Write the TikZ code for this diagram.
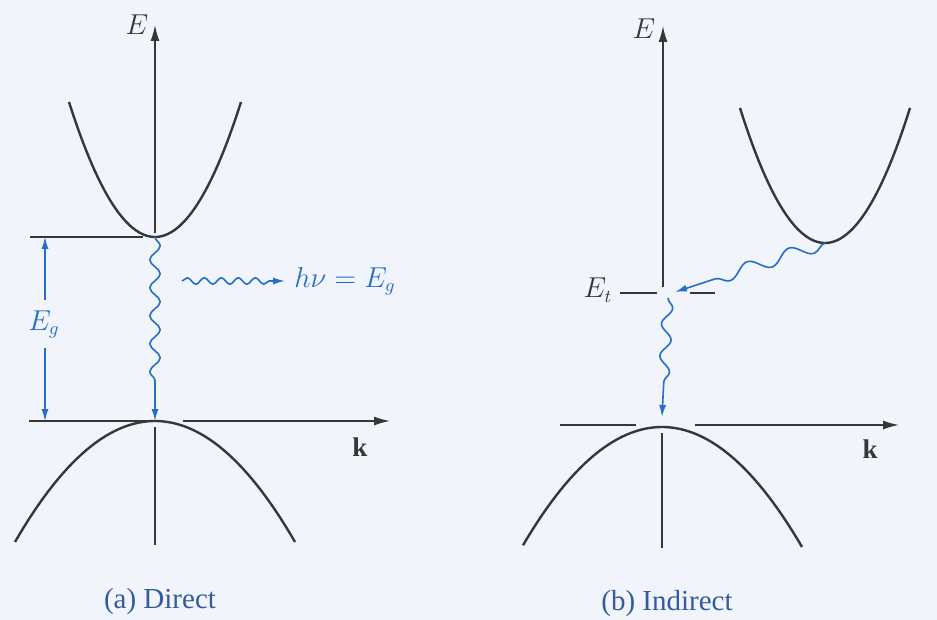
\documentclass[tikz,border=0pt]{standalone}
\usepackage{fontspec}
\setmainfont{Liberation Serif}
\usetikzlibrary{arrows.meta, decorations.pathmorphing}

\definecolor{paper}{RGB}{241,244,250}
\definecolor{bandgray}{RGB}{55,55,55}
\definecolor{waveblue}{RGB}{38,110,200}
\definecolor{capblue}{RGB}{50,92,158}

\begin{document}
\begin{tikzpicture}[>={Latex[length=8pt, width=4.5pt]}, x=0.5pt, y=-0.5pt,
    axis/.style={bandgray, line width=0.75pt},
    band/.style={bandgray, line width=1.2pt},
    photon/.style={waveblue, line width=0.8pt, -{Latex[length=6pt, width=3.5pt]}, decorate},
    lbl/.style={bandgray, font=\fontsize{13.5}{15}\selectfont, inner sep=1pt},
    caption/.style={capblue, font=\fontsize{14.5}{16}\selectfont}]
    \useasboundingbox[fill=paper] (0,0) rectangle (937,620);

    % 1. (a) Direct: bands and axes
    \coordinate (cbA) at (155,237);
    \coordinate (vbA) at (155,421);
    \draw[axis, ->] (155,233) -- (155,25);
    \draw[axis] (155,427) -- (155,545);
    \draw[axis] (30,237) -- (143,237);
    \draw[axis] (29,421) -- (150,421);
    \draw[axis, ->] (183,421) -- (390,421);
    \draw[band, shift={(cbA)}, domain=-86:86, samples=60] plot (\x, {-(0.1351*\x)*(0.1351*\x)});
    \draw[band, shift={(vbA)}, domain=-140:140, samples=60] plot (\x, {(0.07855*\x)*(0.07855*\x)});
    \node[lbl, anchor=base] (EA) at (137,35) {$E$};
    \node[lbl, anchor=base] (kA) at (360,456) {$\mathbf{k}$};

    % 2. (a) Direct: gap and photon
    \draw[waveblue, line width=0.6pt, {Latex[length=6pt, width=3.5pt]}-{Latex[length=6pt, width=3.5pt]}] (45,237) -- (45,421);
    \node[lbl, waveblue, fill=paper, inner ysep=5pt, anchor=base] (EgA) at (44,330) {$E_g$};
    \draw[photon, decoration={snake, amplitude=2.6pt, segment length=14pt, post length=16pt}] (cbA) -- (vbA);
    \draw[photon, decoration={snake, amplitude=1.6pt, segment length=8.5pt, post length=7pt}] (182,281) -- (285,281);
    \node[lbl, waveblue, anchor=base west] (hv) at (292,287) {$h\nu = E_g$};
    \node[caption, anchor=base] (capA) at (160,608) {(a) Direct};

    % 3. (b) Indirect: bands and axes
    \coordinate (cbB) at (825,243);
    \coordinate (trapB) at (675,292);
    \coordinate (vbB) at (662,427);
    \draw[axis, ->] (663,287) -- (663,26);
    \draw[axis] (662,433) -- (662,548);
    \draw[axis] (620,293) -- (657,293);
    \draw[axis] (690,293) -- (715,293);
    \draw[axis] (560,425) -- (636,425);
    \draw[axis, ->] (695,425) -- (899,425);
    \draw[band, shift={(cbB)}, domain=-85:85, samples=60] plot (\x, {-(0.1367*\x)*(0.1367*\x)});
    \draw[band, shift={(vbB)}, domain=-139:140, samples=60] plot (\x, {(0.07823*\x)*(0.07823*\x)});
    \node[lbl, anchor=base] (EB) at (644,39) {$E$};
    \node[lbl, anchor=base] (Et) at (598,298) {$E_t$};
    \node[lbl, anchor=base] (kB) at (870,458) {$\mathbf{k}$};

    % 4. (b) Indirect: transitions through the trap
    \draw[photon, decoration={snake, amplitude=3.2pt, segment length=22pt, post length=12pt}] (cbB) -- (trapB);
    \draw[photon, decoration={snake, amplitude=2.6pt, segment length=16pt, post length=12pt}] (668,298) -- (vbB |- 0,417);
    \node[caption, anchor=base] (capB) at (667,610) {(b) Indirect};
\end{tikzpicture}
\end{document}
